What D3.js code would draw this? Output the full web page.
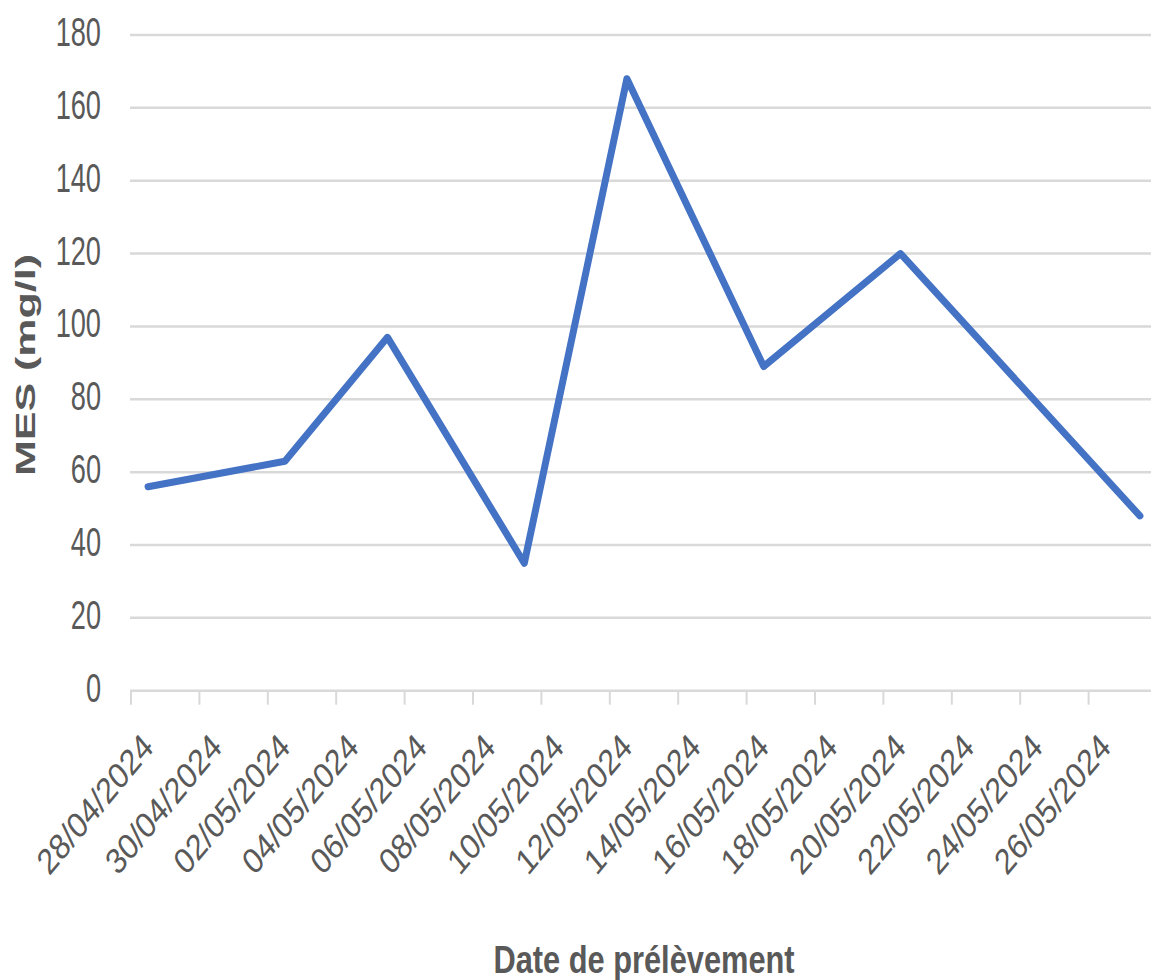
<!DOCTYPE html>
<html>
<head>
<meta charset="utf-8">
<script src="https://cdn.jsdelivr.net/npm/d3@7"></script>
<style>
  html, body { margin: 0; padding: 0; background: #ffffff; }
  svg { display: block; }
</style>
</head>
<body>
<svg id="chart" width="1151" height="980"></svg>
<script>
// Sampling dates (dd/mm/yyyy) and suspended solids (MES, mg/l)
const sampleDates = ["28/04/2024", "02/05/2024", "05/05/2024", "09/05/2024",
                     "12/05/2024", "16/05/2024", "20/05/2024", "27/05/2024"];
const mesValues = [56, 63, 97, 35, 168, 89, 120, 48];

// Axis ticks
const dateTicks = ["28/04/2024", "30/04/2024", "02/05/2024", "04/05/2024", "06/05/2024",
                   "08/05/2024", "10/05/2024", "12/05/2024", "14/05/2024", "16/05/2024",
                   "18/05/2024", "20/05/2024", "22/05/2024", "24/05/2024", "26/05/2024"];
const yTicks = [0, 20, 40, 60, 80, 100, 120, 140, 160, 180];
const dateDomain = ["28/04/2024", "28/05/2024"];

const parse = d3.timeParse("%d/%m/%Y");
const svg = d3.select("#chart");
const textColor = "#595959";
const gridColor = "#d9d9d9";
const font = "'Liberation Sans', Arial, sans-serif";

svg.append("rect").attr("width", 1151).attr("height", 980).attr("fill", "#fff");

// Each date occupies a one-day slot; points sit at the middle of their slot
const x = d3.scaleTime()
  .domain(dateDomain.map(parse))
  .range([131, 1157]);
const y = d3.scaleLinear().domain([0, 180]).range([690.7, 35]);
const mid = d => d3.timeHour.offset(parse(d), 12);

// Horizontal gridlines
svg.append("g").selectAll("line")
  .data(yTicks.filter(v => v > 0))
  .join("line")
  .attr("x1", 130).attr("x2", 1157)
  .attr("y1", d => y(d)).attr("y2", d => y(d))
  .attr("stroke", gridColor).attr("stroke-width", 2.5);

// Y tick labels
svg.append("g").selectAll("text")
  .data(yTicks)
  .join("text")
  .attr("transform", d => `translate(101,${y(d) + 11}) scale(0.68,1)`)
  .attr("text-anchor", "end")
  .attr("font-family", font)
  .attr("font-size", 40)
  .attr("fill", textColor)
  .text(d => d);

// X axis line and tick marks
const xAxis = svg.append("g");
xAxis.append("line")
  .attr("x1", 130).attr("x2", 1157)
  .attr("y1", y(0)).attr("y2", y(0))
  .attr("stroke", gridColor).attr("stroke-width", 2.5);
xAxis.selectAll("line.tick")
  .data(dateTicks)
  .join("line")
  .attr("class", "tick")
  .attr("x1", d => x(parse(d))).attr("x2", d => x(parse(d)))
  .attr("y1", y(0)).attr("y2", y(0) + 14)
  .attr("stroke", gridColor).attr("stroke-width", 2);

// Slanted date labels
xAxis.selectAll("text")
  .data(dateTicks)
  .join("text")
  .attr("transform", d => `translate(${x(parse(d)) + 24},749) scale(0.83,1) rotate(-45)`)
  .attr("text-anchor", "end")
  .attr("font-family", font)
  .attr("font-size", 36)
  .attr("fill", textColor)
  .text(d => d);

// MES line
const points = sampleDates.map((d, i) => ({ date: mid(d), value: mesValues[i] }));
svg.append("path")
  .datum(points)
  .attr("d", d3.line().x(d => x(d.date)).y(d => y(d.value)))
  .attr("fill", "none")
  .attr("stroke", "#4472c4")
  .attr("stroke-width", 7)
  .attr("stroke-linejoin", "round")
  .attr("stroke-linecap", "round");

// Axis titles
svg.append("text")
  .attr("transform", "translate(35,365) scale(0.65,1) rotate(-90)")
  .attr("text-anchor", "middle")
  .attr("font-family", font)
  .attr("font-weight", "bold")
  .attr("font-size", 43)
  .attr("fill", textColor)
  .text("MES (mg/l)");

svg.append("text")
  .attr("transform", "translate(644,973) scale(0.79,1)")
  .attr("text-anchor", "middle")
  .attr("font-family", font)
  .attr("font-weight", "bold")
  .attr("font-size", 39)
  .attr("fill", textColor)
  .text("Date de prélèvement");
</script>
</body>
</html>
